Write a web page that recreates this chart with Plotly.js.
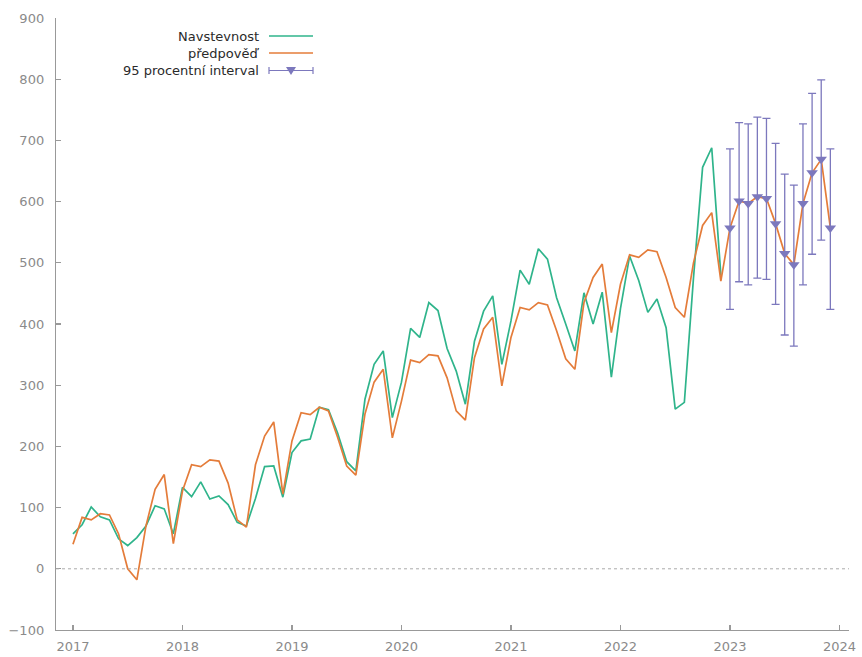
<!DOCTYPE html>
<html>
<head>
<meta charset="utf-8">
<script src="https://cdn.plot.ly/plotly-3.0.1.min.js"></script>
<style>html,body{margin:0;padding:0;background:#fff}#chart{width:862px;height:657px}</style>
</head>
<body>
<div id="chart"></div>
<script>
// ---- data (monthly, starting January 2017) ----
const startYear = 2017;
const navstevnost = [57,72,101,85,80,49,38,51,70,103,98,57,
  133,118,142,114,119,105,76,70,115,167,168,117,
  190,209,212,264,260,222,175,160,277,334,356,247,
  305,393,378,435,422,360,323,269,372,421,446,334,
  405,488,465,523,506,443,400,356,451,400,452,313,
  425,511,471,419,441,394,261,272,475,656,688,480];
const predpoved = [40,84,80,90,88,57,0,-18,70,130,154,41,
  127,170,167,178,176,140,80,68,170,217,240,122,
  209,255,252,264,258,215,168,153,253,305,326,214,
  274,341,337,350,348,312,258,243,345,392,411,299,
  378,427,423,435,431,389,343,326,435,476,498,386,
  465,513,509,521,518,476,427,411,500,561,582,470,
  557,601,597,608,605,564,515,497,597,647,669,557];
const intervalStart = 72; // first forecast month index (Jan 2023)
const intervalLower = [424,469,464,475,473,432,382,364,464,514,537,424];
const intervalUpper = [686,729,727,738,736,695,645,627,727,777,799,686];
const yearTicks = [2017,2018,2019,2020,2021,2022,2023,2024];
const legendLabels = ['Navstevnost','předpověď','95 procentní interval'];

const cGreen = '#2fb48b', cOrange = '#e47c3a', cPurple = '#7c78bd';
const monthX = i => startYear + i/12;
const xNav = navstevnost.map((v,i)=>monthX(i));
const xPred = predpoved.map((v,i)=>monthX(i));
const xInt = intervalLower.map((v,i)=>monthX(intervalStart+i));
const yInt = intervalLower.map((v,i)=>predpoved[intervalStart+i]);

const traces = [
  {x:xNav, y:navstevnost, mode:'lines', line:{color:cGreen,width:1.7}, showlegend:false, name:legendLabels[0]},
  {x:xPred, y:predpoved, mode:'lines', line:{color:cOrange,width:1.7}, showlegend:false, name:legendLabels[1]},
  {x:xInt, y:yInt, mode:'markers', name:legendLabels[2], showlegend:false,
   marker:{symbol:'triangle-down', size:10, color:cPurple},
   error_y:{type:'data', symmetric:false,
     array:intervalUpper.map((u,i)=>u-yInt[i]),
     arrayminus:intervalLower.map((l,i)=>yInt[i]-l),
     color:cPurple, thickness:1.3, width:4}}
];

// plot area geometry (pixels) for legend placement
const L=56, R=13, T=18, B=27, W=862, H=657;
const pw = W-L-R, ph = H-T-B;
const px = x => (x-L)/pw;
const py = y => (H-B-y)/ph;

const legendRows = [36, 53, 70.5];
const annotations = legendLabels.map((t,i)=>({
  text:t, xref:'paper', yref:'paper', x:px(261), y:py(legendRows[i]),
  xanchor:'right', yanchor:'middle', showarrow:false,
  font:{family:'DejaVu Sans', size:13, color:'#2a2a2a'}
}));

const shapes = [
  {type:'line', xref:'paper', yref:'y', x0:0, x1:1, y0:0, y1:0, line:{color:'#aaaaaa', width:1, dash:'dot'}},
  {type:'line', xref:'paper', yref:'paper', x0:px(269), x1:px(313), y0:py(legendRows[0]), y1:py(legendRows[0]), line:{color:cGreen,width:1.7}},
  {type:'line', xref:'paper', yref:'paper', x0:px(269), x1:px(313), y0:py(legendRows[1]), y1:py(legendRows[1]), line:{color:cOrange,width:1.7}},
  {type:'line', xref:'paper', yref:'paper', x0:px(269), x1:px(313), y0:py(legendRows[2]), y1:py(legendRows[2]), line:{color:cPurple,width:1.2}},
  {type:'line', xref:'paper', yref:'paper', x0:px(269), x1:px(269), y0:py(legendRows[2]-3.5), y1:py(legendRows[2]+3.5), line:{color:cPurple,width:1.2}},
  {type:'line', xref:'paper', yref:'paper', x0:px(313), x1:px(313), y0:py(legendRows[2]-3.5), y1:py(legendRows[2]+3.5), line:{color:cPurple,width:1.2}},
  {type:'path', xref:'paper', yref:'paper',
   path:`M${px(286)},${py(legendRows[2]-3.5)} L${px(296)},${py(legendRows[2]-3.5)} L${px(291)},${py(legendRows[2]+4.5)} Z`,
   fillcolor:cPurple, line:{color:cPurple,width:0}}
];

const axisCommon = {
  showgrid:false, zeroline:false, showline:true, linecolor:'#999999', linewidth:1.2,
  ticks:'inside', ticklen:5, tickcolor:'#999999', tickwidth:1.2,
  tickfont:{family:'DejaVu Sans', size:13, color:'#8a8a8a'}
};

const layout = {
  width:W, height:H, margin:{l:L, r:R, t:T, b:B},
  paper_bgcolor:'#ffffff', plot_bgcolor:'#ffffff',
  showlegend:false,
  xaxis: Object.assign({}, axisCommon, {range:[2016.845, 2024.087], tickvals:yearTicks, ticktext:yearTicks.map(String), ticklabelstandoff:4}),
  yaxis: Object.assign({}, axisCommon, {range:[-100, 900], dtick:100, tick0:0, ticklabelstandoff:8}),
  annotations: annotations,
  shapes: shapes
};

Plotly.newPlot('chart', traces, layout, {displayModeBar:false, staticPlot:true});
</script>
</body>
</html>
